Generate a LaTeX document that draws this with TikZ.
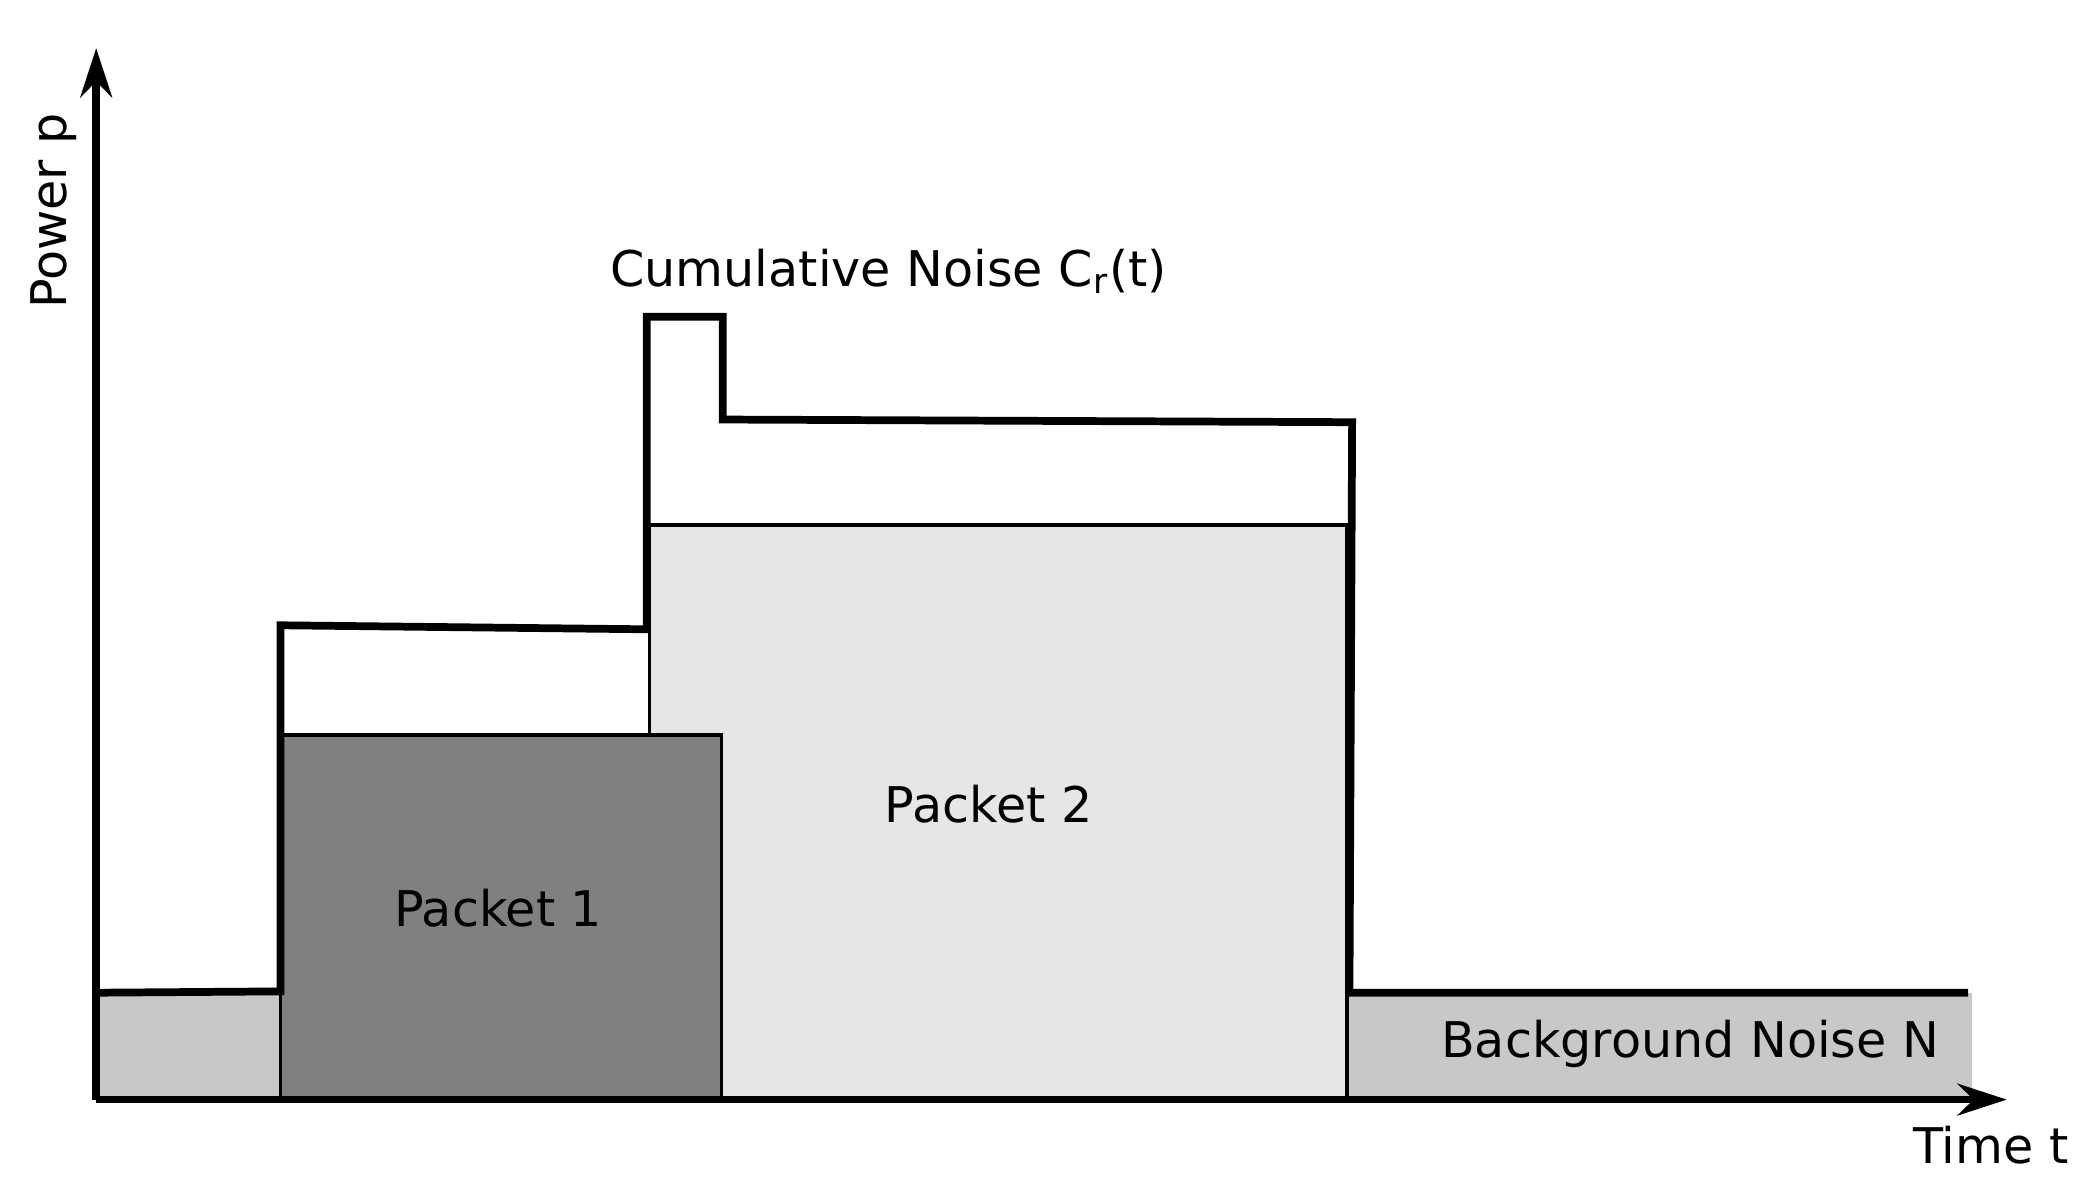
\documentclass[tikz,border=0pt]{standalone}
\usepackage{fontspec}
\setmainfont{DejaVu Sans}
\usetikzlibrary{arrows.meta}

\begin{document}
\begin{tikzpicture}[x=0.01336cm, y=-0.01336cm,
	lbl/.style={font=\fontsize{14}{16}\selectfont},
	box/.style={draw=black, line width=1pt}]

	\useasboundingbox (0,0) rectangle (1568,898);
	%colours of the areas
	\definecolor{noisegray}{HTML}{C8C8C8}
	\definecolor{pktone}{HTML}{808080}
	\definecolor{pkttwo}{HTML}{E6E6E6}
	%background noise
	\fill[noisegray] (72,743) rectangle (210,823);
	\fill[noisegray] (1008,743) rectangle (1476,823);
	%packets
	\filldraw[box, fill=pkttwo] (486,393) rectangle (1008,823);
	\filldraw[box, fill=pktone] (210,550) rectangle (540,823);
	\node[lbl] (p1) at (373,680) {Packet 1};
	\node[lbl] (p2) at (740,602) {Packet 2};
	\node[lbl] (bn) at (1265,781) {Background Noise N};

	%cumulative noise
	\draw[line width=2.2pt, line join=miter] (72,743) -- (210,742) -- (210,468) -- (484,471)
		-- (484,237) -- (541,237) -- (541,314) -- (1012,316) -- (1010,743) -- (1473,743);
	\node[lbl] (cn) at (665,203) {Cumulative Noise C$_{\mathrm{r}}$(t)};

	%axes
	\coordinate (o) at (72,823);
	\coordinate (ytop) at (72,36);
	\coordinate (xend) at (1502,823);
	\draw[line width=2.2pt, -{Stealth[length=14pt,width=9pt]}] (o) -- (ytop);
	\draw[line width=2.2pt, -{Stealth[length=14pt,width=9pt]}] (o) -- (xend);
	\node[lbl, rotate=90] (ylab) at (40,158) {Power p};
	\node[lbl] (xlab) at (1490,857) {Time t};

\end{tikzpicture}
\end{document}
